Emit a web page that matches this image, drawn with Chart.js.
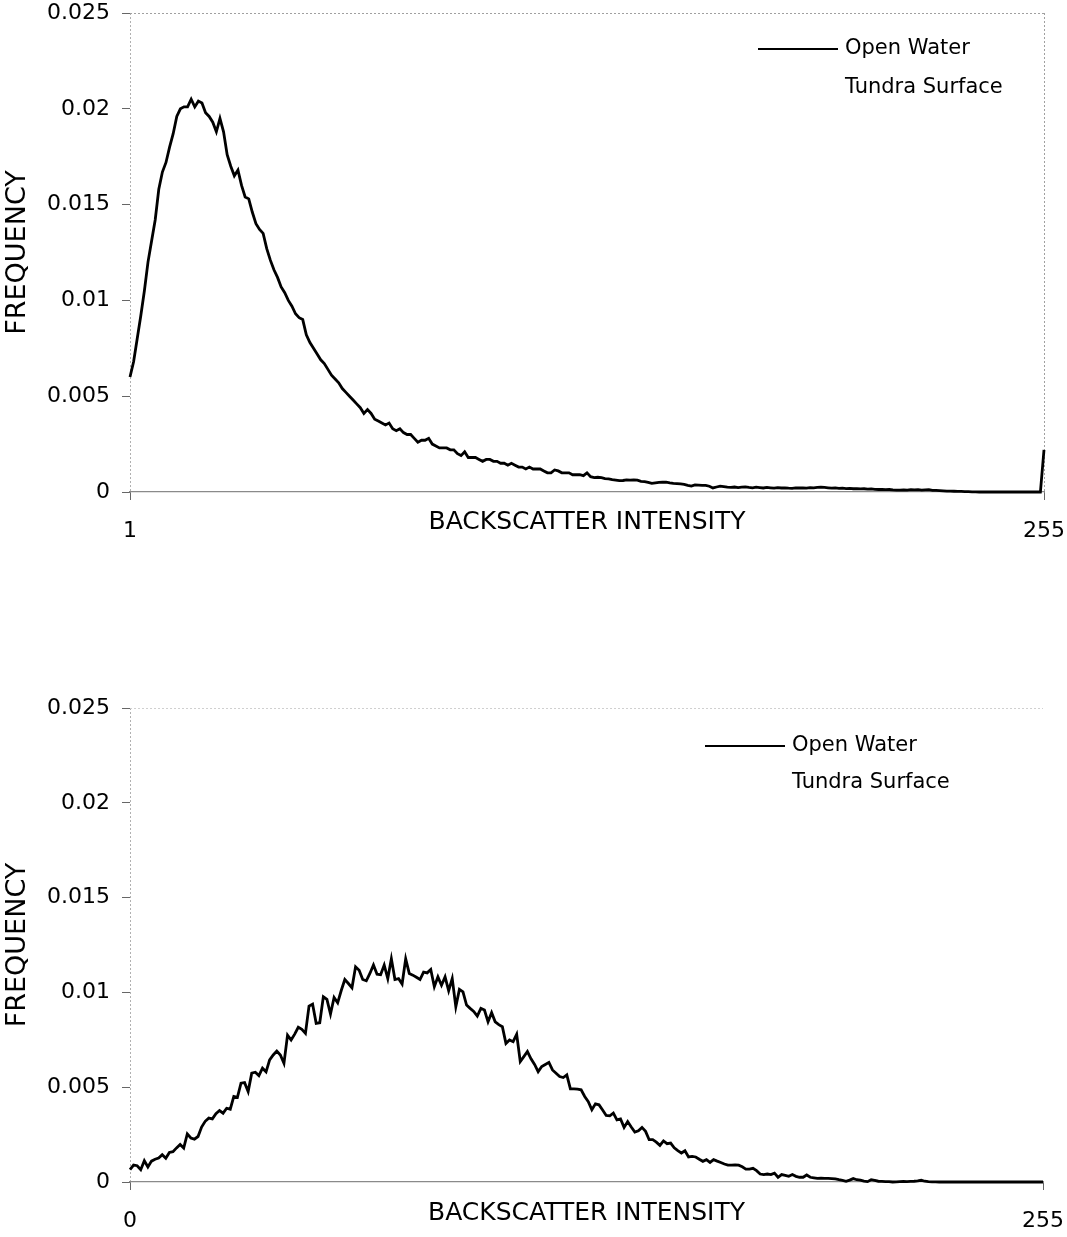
<!DOCTYPE html>
<html>
<head>
<meta charset="utf-8">
<script src="https://cdn.jsdelivr.net/npm/chart.js@4/dist/chart.umd.min.js"></script>
<style>
  html, body { margin: 0; padding: 0; background: #fff; }
  .panel { position: absolute; left: 0; width: 1067px; }
  #topPanel { top: 0; height: 560px; }
  #bottomPanel { top: 690px; height: 547px; }
</style>
</head>
<body>
<div class="panel" id="topPanel"><canvas id="topChart"></canvas></div>
<div class="panel" id="bottomPanel"><canvas id="bottomChart"></canvas></div>
<script>
// series names (legend)
const seriesNames = ['Open Water', 'Tundra Surface'];

// axis text and ticks
const yTitle = 'FREQUENCY';
const xTitle = 'BACKSCATTER INTENSITY';
const yTicks = [0, 0.005, 0.01, 0.015, 0.02, 0.025];
const topRange = [1, 255];
const bottomRange = [0, 255];

// top panel: frequency per intensity bin 1..255
const topValues = [
  0.0060, 0.0068, 0.0080, 0.0092, 0.0105, 0.0120, 0.0131, 0.0142, 0.0158, 0.0167,
  0.0172, 0.0180, 0.0187, 0.0196, 0.0200, 0.0201, 0.0201, 0.0205, 0.0201, 0.0204,
  0.0203, 0.0198, 0.0196, 0.0193, 0.0188, 0.0195, 0.0188, 0.0176, 0.0170, 0.0165,
  0.0168, 0.0160, 0.0154, 0.0153, 0.0146, 0.0140, 0.0137, 0.0135, 0.0127, 0.0121,
  0.0116, 0.0112, 0.0107, 0.0104, 0.0100, 0.0097, 0.0093, 0.0091, 0.0090, 0.0082,
  0.0078, 0.0075, 0.0072, 0.0069, 0.0067, 0.0064, 0.0061, 0.0059, 0.0057, 0.0054,
  0.0052, 0.0050, 0.0048, 0.0046, 0.0044, 0.0041, 0.0043, 0.0041, 0.0038, 0.0037,
  0.0036, 0.0035, 0.0036, 0.0033, 0.0032, 0.0033, 0.0031, 0.0030, 0.0030, 0.0028,
  0.0026, 0.0027, 0.0027, 0.0028, 0.0025, 0.0024, 0.0023, 0.0023, 0.0023, 0.0022,
  0.0022, 0.0020, 0.0019, 0.0021, 0.0018, 0.0018, 0.0018, 0.0017, 0.0016, 0.0017,
  0.0017, 0.0016, 0.0016, 0.0015, 0.0015, 0.0014, 0.0015, 0.0014, 0.0013, 0.0013,
  0.0012, 0.0013, 0.0012, 0.0012, 0.0012, 0.0011, 0.0010, 0.0010, 0.00115, 0.0011,
  0.0010, 0.0010, 0.0010, 0.0009, 0.0009, 0.0009, 0.00085, 0.0010, 0.0008, 0.00075,
  0.00077, 0.00075, 0.0007, 0.00068, 0.00064, 0.00062, 0.00059, 0.0006, 0.00063, 0.00062,
  0.00063, 0.00062, 0.00056, 0.00054, 0.0005, 0.00045, 0.00048, 0.0005, 0.00051, 0.00052,
  0.00048, 0.00045, 0.00044, 0.00042, 0.0004, 0.00035, 0.00031, 0.00037, 0.00036, 0.00035,
  0.00035, 0.0003, 0.00021, 0.00026, 0.00031, 0.00028, 0.00025, 0.00024, 0.00026, 0.00023,
  0.00025, 0.00027, 0.00024, 0.00022, 0.00025, 0.00023, 0.00021, 0.00024, 0.00022, 0.0002,
  0.00023, 0.00021, 0.00022, 0.0002, 0.00019, 0.00021, 0.00021, 0.00022, 0.0002, 0.00023,
  0.00022, 0.00024, 0.00025, 0.00024, 0.00022, 0.0002, 0.00021, 0.00019, 0.0002, 0.00018,
  0.00019, 0.00017, 0.00018, 0.00016, 0.00017, 0.00015, 0.00016, 0.00014, 0.00013, 0.00014,
  0.00012, 0.00013, 0.00011, 0.0001, 0.0001, 0.00011, 0.0001, 0.00012, 0.00011, 0.00012,
  0.0001, 0.00011, 0.00012, 0.00009, 0.00008, 0.00007, 0.00006, 0.00005, 0.00005, 0.00004,
  0.00003, 0.00003, 0.00002, 0.00002, 0.00001, 0.00001, 0, 0.00001, 0, 0,
  0, 0, 0.00001, 0, 0, 0, 0, 0, 0, 0,
  0, 0, 0, 0, 0.0022
];

// bottom panel: frequency per intensity bin 0..255
const bottomValues = [
  0.00065, 0.00089, 0.00086, 0.00065, 0.00112, 0.00079, 0.0011, 0.0012, 0.00126, 0.00144,
  0.00125, 0.00156, 0.0016, 0.0018, 0.00198, 0.00179, 0.00254, 0.00232, 0.00226, 0.0024,
  0.0029, 0.0032, 0.00337, 0.00333, 0.0036, 0.00377, 0.00363, 0.00389, 0.00384, 0.00451,
  0.00447, 0.00521, 0.00524, 0.00477, 0.00574, 0.00579, 0.00561, 0.006, 0.00581, 0.00644,
  0.0067, 0.00691, 0.0067, 0.00626, 0.00775, 0.00749, 0.0078, 0.00816, 0.00805, 0.00784,
  0.00928, 0.00938, 0.00837, 0.0084, 0.00977, 0.00963, 0.00886, 0.00973, 0.00945, 0.0101,
  0.01068, 0.01047, 0.01024, 0.01135, 0.01117, 0.01068, 0.01061, 0.0110, 0.01145, 0.01096,
  0.01093, 0.01144, 0.01073, 0.01177, 0.01068, 0.01073, 0.01044, 0.01177, 0.011, 0.01091,
  0.0108, 0.01068, 0.01107, 0.01103, 0.01121, 0.0103, 0.01082, 0.01038, 0.01082, 0.01009,
  0.01073, 0.00924, 0.01016, 0.01003, 0.00933, 0.00916, 0.009, 0.00875, 0.00916, 0.00907,
  0.00845, 0.00893, 0.00845, 0.0083, 0.00819, 0.00731, 0.00749, 0.0074, 0.00779, 0.00635,
  0.00661, 0.00688, 0.0065, 0.0062, 0.00582, 0.00609, 0.0062, 0.00631, 0.00591, 0.00574,
  0.00556, 0.00551, 0.00565, 0.00491, 0.00491, 0.0049, 0.00486, 0.00451, 0.00424, 0.00381,
  0.00412, 0.00407, 0.0038, 0.00351, 0.00349, 0.00363, 0.00328, 0.00333, 0.00288, 0.00319,
  0.0029, 0.00263, 0.0027, 0.00288, 0.00267, 0.00223, 0.00223, 0.0021, 0.00193, 0.00217,
  0.00202, 0.00205, 0.0018, 0.00165, 0.00153, 0.00165, 0.00132, 0.00135, 0.00132, 0.0012,
  0.00109, 0.00118, 0.00103, 0.00118, 0.0011, 0.00103, 0.00095, 0.00089, 0.00089, 0.0009,
  0.00089, 0.0008, 0.00068, 0.00068, 0.00072, 0.0006, 0.00042, 0.00039, 0.00042, 0.00039,
  0.00047, 0.00025, 0.00039, 0.00035, 0.0003, 0.00039, 0.0003, 0.00025, 0.00025, 0.00037,
  0.00025, 0.00022, 0.00019, 0.0002, 0.00019, 0.00019, 0.00018, 0.00016, 0.00012, 0.00009,
  0.00004, 0.0001, 0.00018, 0.00012, 0.0001, 0.00005, 0.00002, 0.00012, 0.00008, 0.00004,
  0.00003, 0.00002, 0.00002, 0, 0.00001, 0.00002, 0.00003, 0.00002, 0.00003, 0.00004,
  0.00006, 0.00009, 0.00004, 0.00002, 0.00001, 0.00001, 0, 0.00001, 0, 0,
  0, 0.00001, 0, 0, 0, 0, 0, 0, 0, 0,
  0, 0, 0, 0, 0, 0, 0, 0, 0, 0,
  0, 0, 0, 0, 0, 0
];

function binsFor(range) {
  const out = [];
  for (let b = range[0]; b <= range[1]; b++) out.push(b);
  return out;
}

// legend drawn in the upper right corner of the plot, like the original
const cornerLegend = {
  id: 'cornerLegend',
  afterDraw(chart, args, opts) {
    const { ctx, chartArea } = chart;
    ctx.save();
    ctx.font = '21px "DejaVu Sans"';
    ctx.textBaseline = 'middle';
    ctx.fillStyle = '#000';
    chart.data.datasets.forEach((ds, i) => {
      const y = chartArea.top + opts.top + i * opts.spacing;
      const textX = chartArea.right + opts.textOffset;
      ctx.strokeStyle = ds.borderColor;
      ctx.lineWidth = 2.2;
      ctx.beginPath();
      ctx.moveTo(textX - opts.lineLength - 7, y);
      ctx.lineTo(textX - 7, y);
      ctx.stroke();
      ctx.fillText(ds.label, textX, y);
    });
    ctx.restore();
  }
};

function makeChart(canvasId, range, values, cfg) {
  const ctx = document.getElementById(canvasId).getContext('2d');
  return new Chart(ctx, {
    type: 'line',
    data: {
      labels: binsFor(range),
      datasets: [{
        label: seriesNames[0],
        data: values,
        borderColor: '#000',
        borderWidth: 2.8,
        pointRadius: 0,
        tension: 0,
        clip: false
      }, {
        label: seriesNames[1],
        data: [],
        borderColor: 'rgba(0,0,0,0)',
        pointRadius: 0
      }]
    },
    options: {
      responsive: true,
      maintainAspectRatio: false,
      animation: false,
      layout: { padding: { left: 0, top: cfg.padTop, right: cfg.padRight, bottom: 0 } },
      scales: {
        x: {
          type: 'linear',
          min: range[0],
          max: range[1],
          afterBuildTicks: (axis) => { axis.ticks = range.map(v => ({ value: v })); },
          afterFit: (axis) => {
            axis.height = cfg.xHeight;
            axis.paddingLeft = 0;
            axis.paddingRight = 0;
          },
          ticks: {
            color: '#000',
            font: { family: 'DejaVu Sans', size: 22 },
            padding: 18,
            maxRotation: 0
          },
          grid: {
            drawOnChartArea: true,
            color: (c) => (c.tick && c.tick.value === range[0]) ? '#b0b0b0'
              : (c.tick && c.tick.value === range[1] && cfg.rightBorder) ? '#a0a0a0' : 'rgba(0,0,0,0)',
            tickColor: '#666',
            tickLength: 8
          },
          border: { display: true, color: '#8a8a8a', width: 1.2, dash: [2, 2] },
          title: {
            display: true,
            text: xTitle,
            color: '#000',
            font: { family: 'DejaVu Sans', size: 25 },
            padding: { top: 0, bottom: cfg.xTitlePad }
          }
        },
        y: {
          min: 0,
          max: 0.025,
          afterBuildTicks: (axis) => { axis.ticks = yTicks.map(v => ({ value: v })); },
          afterFit: (axis) => {
            axis.width = 130;
            axis.paddingTop = 0;
            axis.paddingBottom = 0;
          },
          ticks: {
            color: '#000',
            font: { family: 'DejaVu Sans', size: 22 },
            padding: 12,
            callback: (v) => String(Number(v.toFixed(3)))
          },
          grid: {
            drawOnChartArea: true,
            color: (c) => (c.tick && c.tick.value === 0.025) ? cfg.topBorder : 'rgba(0,0,0,0)',
            tickColor: '#666',
            tickLength: 8
          },
          border: { display: false, dash: [2, 2] },
          title: {
            display: true,
            text: yTitle,
            color: '#000',
            font: { family: 'DejaVu Sans', size: 27 },
            padding: { top: 2, bottom: 0 }
          }
        }
      },
      plugins: {
        legend: { display: false },
        tooltip: { enabled: false },
        cornerLegend: cfg.legend
      }
    },
    plugins: [cornerLegend]
  });
}

makeChart('topChart', topRange, topValues, {
  padTop: 13, padRight: 23, xHeight: 68, xTitlePad: 23,
  rightBorder: true, topBorder: '#a0a0a0',
  legend: { top: 36, spacing: 39, textOffset: -199, lineLength: 80 }
});

makeChart('bottomChart', bottomRange, bottomValues, {
  padTop: 18, padRight: 24, xHeight: 55, xTitlePad: 9,
  rightBorder: false, topBorder: '#d0d0d0',
  legend: { top: 38, spacing: 37, textOffset: -251, lineLength: 80 }
});
</script>
</body>
</html>
